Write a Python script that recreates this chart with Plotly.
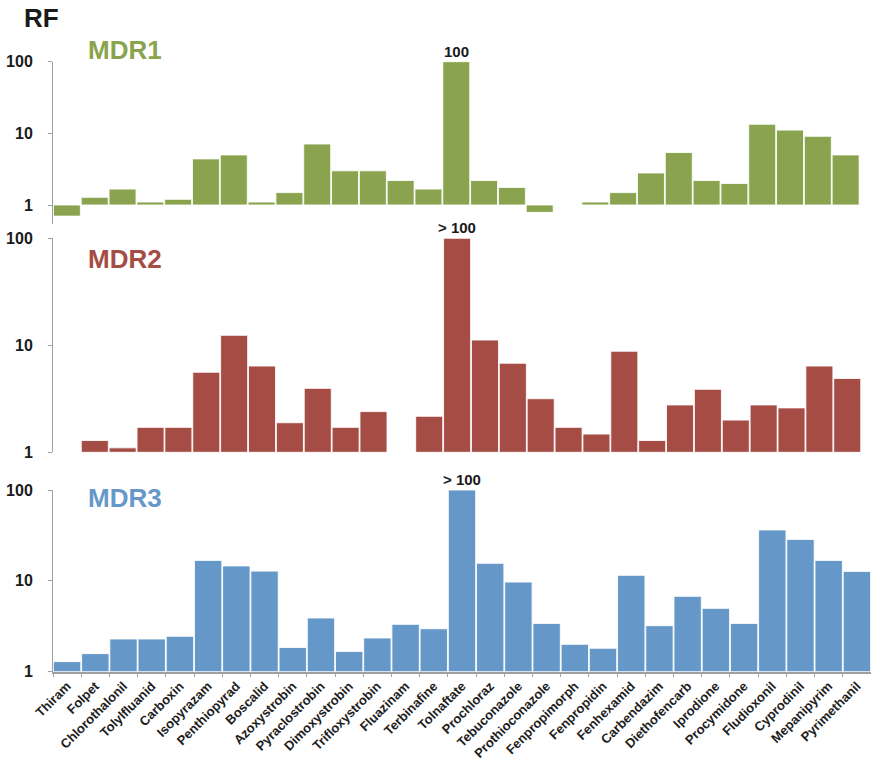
import plotly.graph_objects as go

categories = ["Thiram", "Folpet", "Chlorothalonil", "Tolylfluanid", "Carboxin", "Isopyrazam",
              "Penthiopyrad", "Boscalid", "Azoxystrobin", "Pyraclostrobin", "Dimoxystrobin",
              "Trifloxystrobin", "Fluazinam", "Terbinafine", "Tolnaftate", "Prochloraz",
              "Tebuconazole", "Prothioconazole", "Fenpropimorph", "Fenpropidin", "Fenhexamid",
              "Carbendazim", "Diethofencarb", "Iprodione", "Procymidone", "Fludioxonil",
              "Cyprodinil", "Mepanipyrim", "Pyrimethanil"]

mdr1 = [0.7, 1.28, 1.67, 1.1, 1.2, 4.4, 5.0, 1.1, 1.49, 7.1, 3.0, 3.0, 2.2, 1.67, 100,
        2.2, 1.76, 0.79, None, 1.1, 1.49, 2.8, 5.4, 2.2, 2.0, 13.4, 11.1, 9.1, 5.0]
mdr2 = [None, 1.29, 1.1, 1.71, 1.71, 5.6, 12.4, 6.4, 1.89, 3.96, 1.71, 2.4, None, 2.17, 100,
        11.2, 6.8, 3.17, 1.71, 1.48, 8.8, 1.29, 2.77, 3.88, 2.0, 2.77, 2.6, 6.4, 4.9]
mdr3 = [1.29, 1.58, 2.29, 2.29, 2.45, 16.8, 14.6, 12.8, 1.85, 3.9, 1.67, 2.35, 3.32, 2.97, 100,
        15.6, 9.7, 3.4, 2.0, 1.81, 11.5, 3.21, 6.75, 4.98, 3.4, 36.3, 28.6, 16.8, 12.7]

series_names = ["MDR1", "MDR2", "MDR3"]
series_colors = ["#8aa34e", "#a54c44", "#6598c9"]
peak_labels = ["100", "> 100", "> 100"]
peak_category = "Tolnaftate"
y_tickvals = [1, 10, 100]
y_ticktext = ["1", "10", "100"]

# body margin is removed by a post script, so figure pixels == page pixels
W, H = 871, 772
ML = 53
PW = W - ML

def py(page_px):
    return 1 - page_px / H

def px_x(page_px):
    return (page_px - ML) / PW

FONT = "Liberation Sans, Arial, Helvetica, sans-serif"

# panel geometry (page pixels)
panels = [
    dict(top=61.7, bottom=224.0, yr=[-0.265, 2], xd=[0, 0.986], label_y=49.5),
    dict(top=238.3, bottom=452.3, yr=[0, 2], xd=[0, 0.988], label_y=258.5),
    dict(top=490.0, bottom=671.7, yr=[0, 2], xd=[0, 1.0], label_y=498.5),
]

fig = go.Figure()
series = [mdr1, mdr2, mdr3]
annotations = []
layout = {}
for i, (vals, name, col, pan) in enumerate(zip(series, series_names, series_colors, panels)):
    n = i + 1
    xa = "x" if n == 1 else f"x{n}"
    ya = "y" if n == 1 else f"y{n}"
    sizes = [None if v is None else v - 1 for v in vals]
    fig.add_trace(go.Bar(
        x=categories, y=sizes, base=1, name=name,
        marker=dict(color=col, line=dict(color="rgba(255,255,255,0.85)", width=1)),
        xaxis=xa, yaxis=ya, showlegend=False,
        hovertext=[None if v is None else str(v) for v in vals], hoverinfo="x+text",
    ))
    last = (n == 3)
    layout[f"xaxis{'' if n == 1 else n}"] = dict(
        domain=pan["xd"], anchor=ya, type="category",
        categoryorder="array", categoryarray=categories,
        showticklabels=last, showline=last, linecolor="#a0a0a0", linewidth=1.5,
        ticks="outside" if last else "", tickson="boundaries", ticklen=4,
        tickcolor="#a0a0a0", tickwidth=1, tickangle=-45,
        tickfont=dict(family=FONT, size=13, color="#1e1e1e", weight="bold"),
        showgrid=False, zeroline=False, fixedrange=True,
        range=[-0.5, len(categories) - 0.5],
    )
    layout[f"yaxis{'' if n == 1 else n}"] = dict(
        domain=[py(pan["bottom"]), py(pan["top"])], anchor=xa, type="log",
        range=pan["yr"], tickvals=y_tickvals, ticktext=y_ticktext,
        showline=True, linecolor="#a0a0a0", linewidth=1,
        ticks="outside", ticklen=4, tickcolor="#a0a0a0",
        ticklabelstandoff=12,
        tickfont=dict(family=FONT, size=16, color="#1a1a1a", weight="bold"),
        showgrid=False, zeroline=False, fixedrange=True,
    )
    annotations.append(dict(
        xref="paper", yref="paper", x=px_x(86), y=py(pan["label_y"]),
        xanchor="left", yanchor="middle", text=name, showarrow=False,
        font=dict(family=FONT, size=26, color=col, weight="bold"),
    ))
    annotations.append(dict(
        xref=xa, yref=ya, x=peak_category, y=2, xanchor="center", yanchor="bottom",
        text=peak_labels[i], showarrow=False, yshift=0,
        font=dict(family=FONT, size=15, color="#1a1a1a", weight="bold"),
    ))

annotations.append(dict(
    xref="paper", yref="paper", x=px_x(22), y=py(18.5),
    xanchor="left", yanchor="middle", text="RF", showarrow=False,
    font=dict(family=FONT, size=26, color="#1a1a1a", weight="bold"),
))

fig.update_layout(
    width=W, height=H, margin=dict(l=ML, r=0, t=0, b=0, autoexpand=False),
    paper_bgcolor="white", plot_bgcolor="white",
    bargap=0.03, barmode="overlay",
    annotations=annotations,
    **layout,
)

fig.write_html("out.html", config={"displayModeBar": False},
               post_script="document.body.style.margin='0px';document.body.style.overflow='hidden';")
